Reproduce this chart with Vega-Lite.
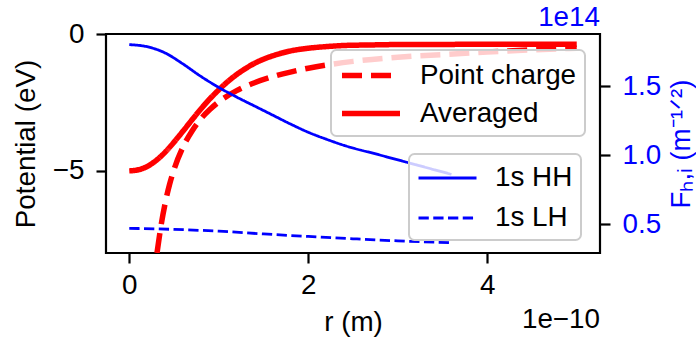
{
  "$schema": "https://vega.github.io/schema/vega-lite/v6.json",
  "width": 494,
  "height": 219,
  "autosize": {"type": "none"},
  "padding": {"left": 106, "top": 34, "right": 96, "bottom": 87},
  "background": "white",
  "datasets": {
    "potential": [
      {"r": 3.1e-11, "V": -8.0, "series": "Point charge"},
      {"r": 3.5e-11, "V": -7.1, "series": "Point charge"},
      {"r": 4.0e-11, "V": -6.2, "series": "Point charge"},
      {"r": 4.5e-11, "V": -5.5, "series": "Point charge"},
      {"r": 5.0e-11, "V": -4.95, "series": "Point charge"},
      {"r": 6.0e-11, "V": -4.13, "series": "Point charge"},
      {"r": 7.0e-11, "V": -3.55, "series": "Point charge"},
      {"r": 8.0e-11, "V": -3.1, "series": "Point charge"},
      {"r": 9.0e-11, "V": -2.76, "series": "Point charge"},
      {"r": 1.0e-10, "V": -2.48, "series": "Point charge"},
      {"r": 1.2e-10, "V": -2.07, "series": "Point charge"},
      {"r": 1.4e-10, "V": -1.78, "series": "Point charge"},
      {"r": 1.6e-10, "V": -1.56, "series": "Point charge"},
      {"r": 1.8e-10, "V": -1.39, "series": "Point charge"},
      {"r": 2.0e-10, "V": -1.25, "series": "Point charge"},
      {"r": 2.25e-10, "V": -1.11, "series": "Point charge"},
      {"r": 2.5e-10, "V": -1.0, "series": "Point charge"},
      {"r": 3.0e-10, "V": -0.85, "series": "Point charge"},
      {"r": 3.5e-10, "V": -0.75, "series": "Point charge"},
      {"r": 4.0e-10, "V": -0.66, "series": "Point charge"},
      {"r": 4.5e-10, "V": -0.58, "series": "Point charge"},
      {"r": 5.0e-10, "V": -0.52, "series": "Point charge"},
      {"r": 0, "V": -5.0, "series": "Averaged"},
      {"r": 1.0e-11, "V": -4.96, "series": "Averaged"},
      {"r": 2.0e-11, "V": -4.84, "series": "Averaged"},
      {"r": 3.0e-11, "V": -4.62, "series": "Averaged"},
      {"r": 4.0e-11, "V": -4.32, "series": "Averaged"},
      {"r": 5.0e-11, "V": -3.95, "series": "Averaged"},
      {"r": 6.0e-11, "V": -3.55, "series": "Averaged"},
      {"r": 7.0e-11, "V": -3.14, "series": "Averaged"},
      {"r": 8.0e-11, "V": -2.74, "series": "Averaged"},
      {"r": 9.0e-11, "V": -2.37, "series": "Averaged"},
      {"r": 1.0e-10, "V": -2.04, "series": "Averaged"},
      {"r": 1.1e-10, "V": -1.74, "series": "Averaged"},
      {"r": 1.2e-10, "V": -1.48, "series": "Averaged"},
      {"r": 1.3e-10, "V": -1.26, "series": "Averaged"},
      {"r": 1.4e-10, "V": -1.07, "series": "Averaged"},
      {"r": 1.5e-10, "V": -0.92, "series": "Averaged"},
      {"r": 1.6e-10, "V": -0.8, "series": "Averaged"},
      {"r": 1.7e-10, "V": -0.7, "series": "Averaged"},
      {"r": 1.8e-10, "V": -0.62, "series": "Averaged"},
      {"r": 2.0e-10, "V": -0.52, "series": "Averaged"},
      {"r": 2.2e-10, "V": -0.46, "series": "Averaged"},
      {"r": 2.4e-10, "V": -0.42, "series": "Averaged"},
      {"r": 2.7e-10, "V": -0.4, "series": "Averaged"},
      {"r": 3.0e-10, "V": -0.385, "series": "Averaged"},
      {"r": 3.5e-10, "V": -0.38, "series": "Averaged"},
      {"r": 4.0e-10, "V": -0.377, "series": "Averaged"},
      {"r": 4.5e-10, "V": -0.375, "series": "Averaged"},
      {"r": 5.0e-10, "V": -0.375, "series": "Averaged"}
    ],
    "wavefunction": [
      {"r": 0, "F": 1.8e14, "state": "1s HH"},
      {"r": 2.0e-11, "F": 1.785e14, "state": "1s HH"},
      {"r": 4.0e-11, "F": 1.74e14, "state": "1s HH"},
      {"r": 6.0e-11, "F": 1.66e14, "state": "1s HH"},
      {"r": 8.0e-11, "F": 1.57e14, "state": "1s HH"},
      {"r": 1.0e-10, "F": 1.49e14, "state": "1s HH"},
      {"r": 1.2e-10, "F": 1.42e14, "state": "1s HH"},
      {"r": 1.4e-10, "F": 1.355e14, "state": "1s HH"},
      {"r": 1.6e-10, "F": 1.29e14, "state": "1s HH"},
      {"r": 1.8e-10, "F": 1.225e14, "state": "1s HH"},
      {"r": 2.0e-10, "F": 1.165e14, "state": "1s HH"},
      {"r": 2.2e-10, "F": 1.115e14, "state": "1s HH"},
      {"r": 2.4e-10, "F": 1.07e14, "state": "1s HH"},
      {"r": 2.8e-10, "F": 1.0e14, "state": "1s HH"},
      {"r": 3.2e-10, "F": 0.93e14, "state": "1s HH"},
      {"r": 3.6e-10, "F": 0.86e14, "state": "1s HH"},
      {"r": 0, "F": 0.469e14, "state": "1s LH"},
      {"r": 5.0e-11, "F": 0.461e14, "state": "1s LH"},
      {"r": 1.0e-10, "F": 0.448e14, "state": "1s LH"},
      {"r": 1.5e-10, "F": 0.428e14, "state": "1s LH"},
      {"r": 2.0e-10, "F": 0.41e14, "state": "1s LH"},
      {"r": 2.5e-10, "F": 0.393e14, "state": "1s LH"},
      {"r": 3.0e-10, "F": 0.378e14, "state": "1s LH"},
      {"r": 3.6e-10, "F": 0.365e14, "state": "1s LH"}
    ]
  },
  "config": {
    "font": "Liberation Sans",
    "view": {"stroke": "#000000", "strokeWidth": 2.2},
    "axis": {
      "labelFont": "Liberation Sans",
      "titleFont": "Liberation Sans",
      "labelFontSize": 27.8,
      "titleFontSize": 27.8,
      "titleFontWeight": "normal",
      "labelColor": "#000000",
      "titleColor": "#000000",
      "tickColor": "#000000",
      "tickWidth": 2.2,
      "tickSize": 10,
      "domain": false,
      "grid": false
    },
    "legend": {
      "labelFont": "Liberation Sans",
      "labelFontSize": 27.8,
      "labelColor": "#000000",
      "fillColor": "rgba(255,255,255,0.8)",
      "strokeColor": "#cccccc",
      "cornerRadius": 5.5,
      "padding": 8,
      "title": null
    }
  },
  "layer": [
    {
      "data": {"name": "potential"},
      "layer": [
        {
          "mark": {"type": "line", "color": "#ff0000", "strokeWidth": 5.5, "interpolate": "monotone", "clip": true},
          "encoding": {
            "x": {
              "field": "r", "type": "quantitative",
              "scale": {"domain": [-2.6e-11, 5.26e-10], "nice": false, "zero": false},
              "axis": {"title": "r (m)", "values": [0, 2e-10, 4e-10], "labelExpr": "'' + round(datum.value * 1e10)", "labelPadding": 8, "titlePadding": 10}
            },
            "y": {
              "field": "V", "type": "quantitative",
              "scale": {"domain": [-8, 0], "nice": false, "zero": false},
              "axis": {"title": "Potential (eV)", "values": [-5, 0], "labelPadding": 12, "titlePadding": 12}
            },
            "strokeDash": {
              "field": "series", "type": "nominal",
              "scale": {"domain": ["Point charge", "Averaged"], "range": [[20, 9], [1, 0]]},
              "legend": {
                "orient": "none", "legendX": 225, "legendY": 16,
                "symbolType": "M-1,0H3", "symbolSize": 841,
                "symbolStrokeColor": "#ff0000", "symbolStrokeWidth": 5.5,
                "labelOffset": 46, "rowPadding": 6,
                "encode": {"legend": {"update": {"strokeWidth": {"value": 2}}}}
              }
            }
          }
        },
        {
          "data": {"values": [{"label": "1e−10"}]},
          "mark": {"type": "text", "align": "right", "baseline": "alphabetic", "dy": 75, "fontSize": 27.8, "font": "Liberation Sans", "color": "#000000"},
          "encoding": {
            "x": {"datum": 5.26e-10, "type": "quantitative"},
            "y": {"datum": -8, "type": "quantitative"},
            "text": {"field": "label"}
          }
        }
      ]
    },
    {
      "data": {"name": "wavefunction"},
      "layer": [
        {
          "mark": {"type": "line", "color": "#0000ff", "strokeWidth": 2.78, "interpolate": "monotone"},
          "encoding": {
            "x": {"field": "r", "type": "quantitative"},
            "y": {
              "field": "F", "type": "quantitative",
              "scale": {"domain": [0.29e14, 1.877e14], "nice": false, "zero": false},
              "axis": {
                "orient": "right",
                "title": "Fₕ,ᵢ (m⁻¹ᐟ²)",
                "values": [0.5e14, 1.0e14, 1.5e14],
                "labelExpr": "format(datum.value / 1e14, '.1f')",
                "labelColor": "#0000ff", "titleColor": "#0000ff",
                "labelPadding": 12, "titlePadding": 35, "titleAngle": 270
              }
            },
            "strokeDash": {
              "field": "state", "type": "nominal",
              "scale": {"domain": ["1s HH", "1s LH"], "range": [[1, 0], [10.3, 4.45]]},
              "legend": {
                "orient": "none", "legendX": 303, "legendY": 120,
                "symbolType": "M-1,0H3", "symbolSize": 841,
                "symbolStrokeColor": "#0000ff", "symbolStrokeWidth": 2.78,
                "labelOffset": 46, "rowPadding": 10,
                "encode": {"legend": {"update": {"strokeWidth": {"value": 2}}}}
              }
            }
          }
        },
        {
          "data": {"values": [{"label": "1e14"}]},
          "mark": {"type": "text", "align": "right", "baseline": "alphabetic", "dy": -8, "fontSize": 27.8, "font": "Liberation Sans", "color": "#0000ff"},
          "encoding": {
            "x": {"datum": 5.26e-10, "type": "quantitative"},
            "y": {"datum": 1.877e14, "type": "quantitative"},
            "text": {"field": "label"}
          }
        }
      ]
    }
  ],
  "resolve": {
    "scale": {"y": "independent", "strokeDash": "independent"},
    "legend": {"strokeDash": "independent"}
  }
}
